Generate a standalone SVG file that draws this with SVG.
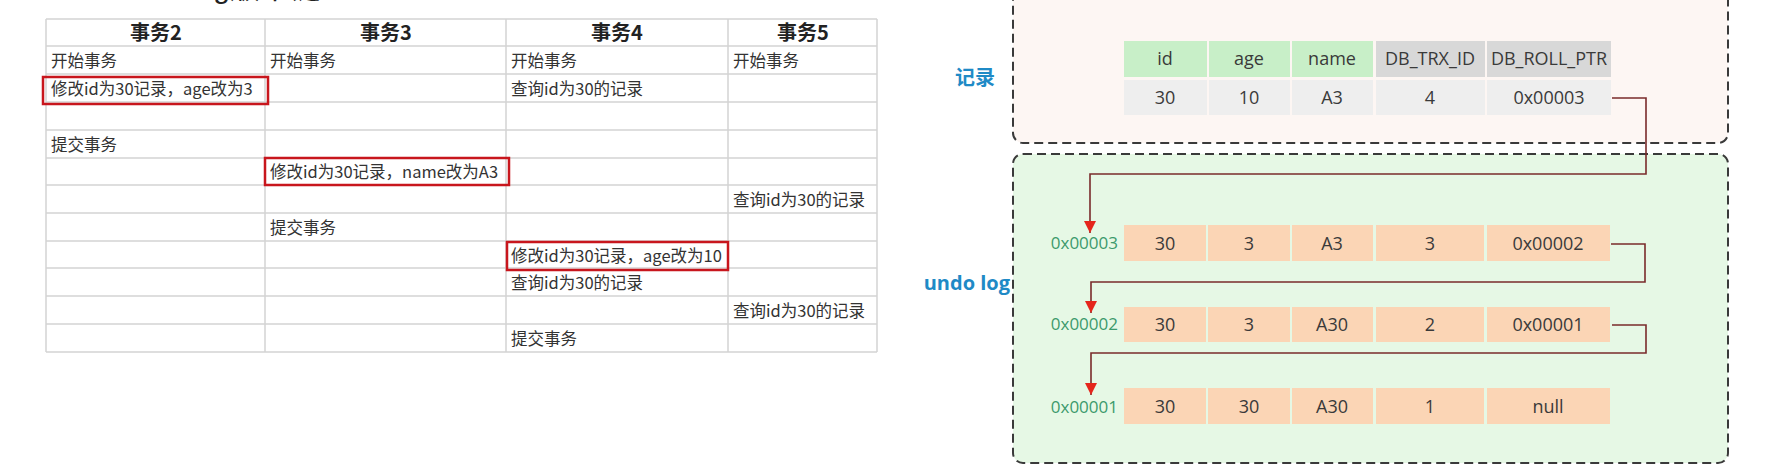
<svg xmlns="http://www.w3.org/2000/svg" width="1766" height="476" viewBox="0 0 1766 476">
<style>
  .grid line { stroke: #d3d3d3; stroke-width: 1.5; }
  .hd { font-family: "Noto Sans CJK SC", "Noto Sans", sans-serif; font-size: 20px; font-weight: bold; fill: #222; text-anchor: middle; }
  .tx { font-family: "Noto Sans CJK SC", "Noto Sans", sans-serif; font-size: 16.5px; fill: #333; }
  .hl { fill: none; stroke: #c8161d; stroke-width: 2.5; }
  .box { stroke: #3a3a3a; stroke-width: 2; stroke-dasharray: 9 5; }
  .cell { font-family: "Open Sans", "Noto Sans", sans-serif; font-size: 18px; fill: #3a3a3a; text-anchor: middle; }
  .hg { fill: #c8efc8; }
  .hgr { fill: #d8d8d8; }
  .dr { fill: #eeeeee; }
  .pe { fill: #fbd5b5; }
  .addr { font-family: "Open Sans", "Noto Sans", sans-serif; font-size: 17px; fill: #3c9a6c; text-anchor: end; }
  .lbl { font-family: "Open Sans", "Noto Sans CJK SC", sans-serif; font-size: 20px; font-weight: bold; fill: #1f8ac6; }
  .conn { fill: none; stroke: #7a2b2b; stroke-width: 1.6; }
</style>
<defs>
  <marker id="arr" markerUnits="userSpaceOnUse" markerWidth="12" markerHeight="12" refX="12" refY="6" orient="auto">
    <path d="M0,0 L12,6 L0,12 z" fill="#e5261c"/>
  </marker>
</defs>
<rect width="1766" height="476" fill="#ffffff"/>

<!-- clipped title -->
<text x="320" y="-2" font-family="Liberation Sans, Noto Sans CJK SC, sans-serif" font-size="30" fill="#222" text-anchor="end">undo log版本链</text>

<!-- transaction table -->
<g id="tx-table">
  <g class="grid">
    <line x1="46" y1="19" x2="877" y2="19"/>
    <line x1="46" y1="46" x2="877" y2="46"/>
    <line x1="46" y1="74" x2="877" y2="74"/>
    <line x1="46" y1="102" x2="877" y2="102"/>
    <line x1="46" y1="130" x2="877" y2="130"/>
    <line x1="46" y1="158" x2="877" y2="158"/>
    <line x1="46" y1="185" x2="877" y2="185"/>
    <line x1="46" y1="213" x2="877" y2="213"/>
    <line x1="46" y1="241" x2="877" y2="241"/>
    <line x1="46" y1="268" x2="877" y2="268"/>
    <line x1="46" y1="296" x2="877" y2="296"/>
    <line x1="46" y1="324" x2="877" y2="324"/>
    <line x1="46" y1="352" x2="877" y2="352"/>
    <line x1="46" y1="19" x2="46" y2="352"/>
    <line x1="265" y1="19" x2="265" y2="352"/>
    <line x1="506" y1="19" x2="506" y2="352"/>
    <line x1="728" y1="19" x2="728" y2="352"/>
    <line x1="877" y1="19" x2="877" y2="352"/>
  </g>
  <text class="hd" x="156" y="40">事务2</text>
  <text class="hd" x="386" y="40">事务3</text>
  <text class="hd" x="617" y="40">事务4</text>
  <text class="hd" x="803" y="40">事务5</text>

  <text class="tx" x="51" y="67">开始事务</text>
  <text class="tx" x="270" y="67">开始事务</text>
  <text class="tx" x="511" y="67">开始事务</text>
  <text class="tx" x="733" y="67">开始事务</text>

  <text class="tx" x="51" y="95">修改id为30记录，age改为3</text>
  <text class="tx" x="511" y="95">查询id为30的记录</text>

  <text class="tx" x="51" y="151">提交事务</text>
  <text class="tx" x="270" y="178">修改id为30记录，name改为A3</text>
  <text class="tx" x="733" y="206">查询id为30的记录</text>
  <text class="tx" x="270" y="234">提交事务</text>
  <text class="tx" x="511" y="262">修改id为30记录，age改为10</text>
  <text class="tx" x="511" y="289">查询id为30的记录</text>
  <text class="tx" x="733" y="317">查询id为30的记录</text>
  <text class="tx" x="511" y="345">提交事务</text>
</g>
<g id="hl-1"><rect class="hl" x="43" y="77" width="225" height="27"/></g>
<g id="hl-2"><rect class="hl" x="265" y="158" width="244" height="27"/></g>
<g id="hl-3"><rect class="hl" x="507" y="242" width="221" height="28"/></g>

<!-- record box -->
<g id="record-box">
  <rect class="box" x="1013" y="-30" width="715" height="173" rx="10" fill="#fdf6f3"/>
  <text class="lbl" x="975" y="85" text-anchor="middle" font-family="Noto Sans CJK SC, sans-serif">记录</text>
</g>

<!-- undo log box -->
<g id="undo-box">
  <rect class="box" x="1013" y="154" width="715" height="309" rx="10" fill="#e6f8e5"/>
  <text class="lbl" x="1010" y="290" text-anchor="end">undo log</text>
</g>

<g id="record-row">
  <rect class="hg" x="1124" y="41" width="83" height="36"/>
  <rect class="hg" x="1209" y="41" width="81" height="36"/>
  <rect class="hg" x="1292" y="41" width="81" height="36"/>
  <rect class="hgr" x="1376" y="41" width="109" height="36"/>
  <rect class="hgr" x="1487" y="41" width="124" height="36"/>
  <text class="cell" x="1165" y="65">id</text>
  <text class="cell" x="1249" y="65">age</text>
  <text class="cell" x="1332" y="65">name</text>
  <text class="cell" x="1430" y="65">DB_TRX_ID</text>
  <text class="cell" x="1549" y="65">DB_ROLL_PTR</text>
  <rect class="dr" x="1124" y="80" width="83" height="35"/>
  <rect class="dr" x="1209" y="80" width="81" height="35"/>
  <rect class="dr" x="1292" y="80" width="81" height="35"/>
  <rect class="dr" x="1376" y="80" width="109" height="35"/>
  <rect class="dr" x="1487" y="80" width="124" height="35"/>
  <text class="cell" x="1165" y="104">30</text>
  <text class="cell" x="1249" y="104">10</text>
  <text class="cell" x="1332" y="104">A3</text>
  <text class="cell" x="1430" y="104">4</text>
  <text class="cell" x="1549" y="104">0x00003</text>
</g>

<g id="undo-1">
  <text class="addr" x="1118" y="249">0x00003</text>
  <rect class="pe" x="1124" y="225" width="82" height="36"/>
  <rect class="pe" x="1208" y="225" width="82" height="36"/>
  <rect class="pe" x="1292" y="225" width="81" height="36"/>
  <rect class="pe" x="1376" y="225" width="108" height="36"/>
  <rect class="pe" x="1487" y="225" width="123" height="36"/>
  <text class="cell" x="1165" y="250">30</text>
  <text class="cell" x="1249" y="250">3</text>
  <text class="cell" x="1332" y="250">A3</text>
  <text class="cell" x="1430" y="250">3</text>
  <text class="cell" x="1548" y="250">0x00002</text>
</g>

<g id="undo-2">
  <text class="addr" x="1118" y="330">0x00002</text>
  <rect class="pe" x="1124" y="307" width="82" height="35"/>
  <rect class="pe" x="1208" y="307" width="82" height="35"/>
  <rect class="pe" x="1292" y="307" width="81" height="35"/>
  <rect class="pe" x="1376" y="307" width="108" height="35"/>
  <rect class="pe" x="1487" y="307" width="123" height="35"/>
  <text class="cell" x="1165" y="331">30</text>
  <text class="cell" x="1249" y="331">3</text>
  <text class="cell" x="1332" y="331">A30</text>
  <text class="cell" x="1430" y="331">2</text>
  <text class="cell" x="1548" y="331">0x00001</text>
</g>

<g id="undo-3">
  <text class="addr" x="1118" y="413">0x00001</text>
  <rect class="pe" x="1124" y="388" width="82" height="36"/>
  <rect class="pe" x="1208" y="388" width="82" height="36"/>
  <rect class="pe" x="1292" y="388" width="81" height="36"/>
  <rect class="pe" x="1376" y="388" width="108" height="36"/>
  <rect class="pe" x="1487" y="388" width="123" height="36"/>
  <text class="cell" x="1165" y="413">30</text>
  <text class="cell" x="1249" y="413">30</text>
  <text class="cell" x="1332" y="413">A30</text>
  <text class="cell" x="1430" y="413">1</text>
  <text class="cell" x="1548" y="413">null</text>
</g>

<g id="connectors">
  <path class="conn" d="M1612,98 H1646 V174 H1090 V233" marker-end="url(#arr)"/>
  <path class="conn" d="M1611,244 H1645 V282 H1091 V313" marker-end="url(#arr)"/>
  <path class="conn" d="M1612,325 H1646 V353 H1091 V395" marker-end="url(#arr)"/>
</g>
</svg>
